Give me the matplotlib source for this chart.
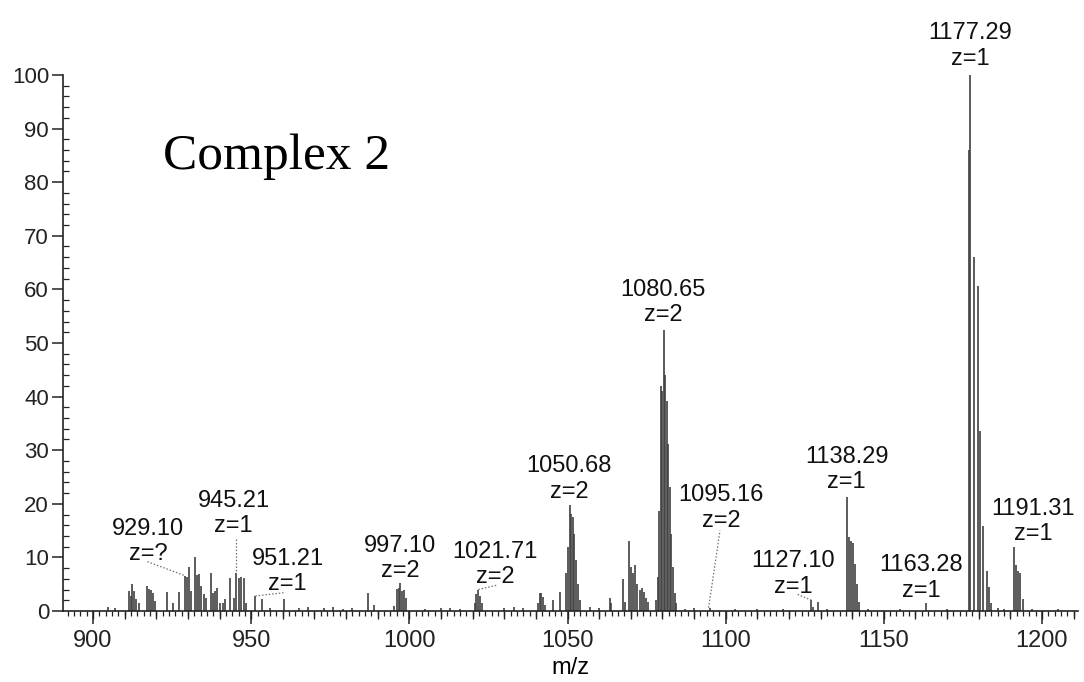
import numpy as np
import matplotlib
matplotlib.use("Agg")
import matplotlib.pyplot as plt
from matplotlib.ticker import MultipleLocator

# ---- data: stick spectrum (m/z, relative intensity %) ----
peak_mz = [
    904.8, 907.0,
    911.4, 911.9, 912.4, 912.9, 913.5, 914.5, 917.2, 917.7, 918.4, 919.1, 919.7,
    923.3, 925.3, 927.2, 929.0, 929.7, 930.3, 931.1, 932.2, 933.0, 933.5, 934.2,
    935.0, 935.6, 937.2, 937.9, 938.6, 939.3, 940.0, 941.1, 941.6, 943.4, 944.6,
    945.3, 946.0, 946.9, 947.6, 948.5, 951.3, 953.5, 956.0, 960.4, 965.0, 968.0,
    973.0, 976.0, 979.0, 982.0, 987.0, 988.8, 995.1, 996.0, 996.6, 997.1, 997.7,
    998.2, 998.8, 1005.0, 1010.0, 1013.0, 1016.0, 1020.7, 1021.2, 1021.7, 1022.2,
    1022.9, 1030.0, 1033.0, 1036.0, 1040.7, 1041.2, 1041.7, 1042.3, 1042.8,
    1045.4, 1047.5, 1049.6, 1050.2, 1050.7, 1051.2, 1051.7, 1052.2, 1052.8,
    1053.3, 1053.8, 1057.0, 1060.0, 1063.3, 1063.8, 1067.6, 1068.1, 1069.4,
    1070.2, 1070.7, 1071.4, 1072.1, 1072.8, 1073.6, 1074.2, 1074.9, 1075.5,
    1077.9, 1078.6, 1078.9, 1079.4, 1080.0, 1080.6, 1080.9, 1081.5, 1081.9,
    1082.4, 1082.8, 1083.4, 1083.9, 1084.4, 1087.0, 1090.0, 1095.1, 1103.0,
    1110.0, 1118.0, 1127.1, 1127.7, 1129.3, 1132.0, 1138.3, 1138.9, 1139.6,
    1140.2, 1140.8, 1141.5, 1142.1, 1145.0, 1155.0, 1163.3, 1170.0, 1176.9,
    1177.3, 1178.4, 1179.7, 1180.5, 1181.5, 1182.6, 1183.3, 1183.9, 1186.0,
    1188.0, 1191.3, 1191.9, 1192.5, 1193.2, 1194.1, 1197.0, 1205.0,
]
peak_int = [
    0.8, 0.5,
    3.7, 2.8, 5.1, 3.7, 2.3, 1.5, 4.6, 4.1, 3.9, 3.3, 1.9,
    3.5, 1.5, 3.5, 6.5, 6.4, 8.3, 3.7, 10.0, 6.8, 6.9, 4.6,
    3.1, 2.5, 7.1, 3.4, 3.7, 4.3, 1.5, 1.4, 2.2, 6.2, 2.5,
    7.0, 6.2, 6.3, 6.2, 1.5, 2.8, 2.2, 0.6, 2.2, 0.5, 0.7,
    0.6, 0.7, 0.4, 0.5, 3.3, 1.2, 0.9, 4.1, 4.3, 5.3, 3.7,
    3.9, 2.5, 0.4, 0.6, 0.5, 0.4, 1.5, 3.1, 3.9, 2.8,
    1.5, 0.5, 0.7, 0.5, 1.4, 3.3, 3.3, 2.7, 1.1,
    2.0, 3.6, 7.0, 11.9, 19.7, 18.1, 17.5, 14.4, 9.5,
    5.1, 2.0, 0.8, 0.5, 2.4, 1.4, 5.9, 1.7, 13.0,
    8.2, 7.0, 8.5, 5.1, 3.9, 4.2, 3.6, 2.4, 1.7,
    2.0, 6.4, 18.7, 41.9, 41.0, 52.4, 44.1, 39.1, 31.1,
    23.1, 14.4, 8.2, 3.3, 1.4, 0.4, 0.5, 0.6, 0.3,
    0.3, 0.4, 2.0, 0.8, 1.7, 0.3, 21.2, 13.8, 13.0,
    12.7, 8.8, 5.1, 1.7, 0.3, 0.3, 1.4, 0.4, 86.0,
    100.0, 66.0, 60.6, 33.5, 15.8, 7.5, 4.5, 1.5, 0.5,
    0.4, 12.0, 8.5, 7.5, 7.0, 2.3, 0.3, 0.3,
]

# ---- annotations ----
label_mass = ["929.10", "945.21", "951.21", "997.10", "1021.71", "1050.68",
              "1080.65", "1095.16", "1127.10", "1138.29", "1163.28",
              "1177.29", "1191.31"]
label_charge = ["z=?", "z=1", "z=1", "z=2", "z=2", "z=2", "z=2", "z=2",
                "z=1", "z=1", "z=1", "z=1", "z=1"]
label_x = [917.4, 944.4, 961.5, 997.0, 1027.2, 1050.6, 1080.3, 1098.5,
           1121.3, 1138.3, 1161.8, 1177.3, 1197.3]
label_y = [8.6, 13.8, 3.0, 5.4, 4.3, 20.2, 53.1, 14.8, 2.5, 22.0, 1.7,
           101.0, 12.3]

# dotted leader lines: (start m/z, start int) -> (end m/z, end int)
leader_x0 = [917.2, 945.3, 951.3, 1021.8, 1094.6, 1127.1]
leader_y0 = [9.2, 13.4, 2.8, 4.0, 0.6, 2.0]
leader_x1 = [929.0, 945.3, 960.2, 1027.6, 1098.2, 1122.4]
leader_y1 = [6.6, 7.0, 3.4, 4.8, 15.0, 3.2]

x_range = (890.5, 1211.4)
y_range = (0, 100)

# ---- figure ----
fig = plt.figure(figsize=(10.84, 6.82), dpi=100)
ax = fig.add_axes([0.0581, 0.1041, 0.9364, 0.786])
sans = ["Liberation Sans", "DejaVu Sans"]

ax.vlines(peak_mz, 0, peak_int, colors="#404040", linewidth=1.2)

for x0, y0, x1, y1 in zip(leader_x0, leader_y0, leader_x1, leader_y1):
    ax.plot([x0, x1], [y0, y1], linestyle=(0, (1.2, 1.5)), color="#707070",
            linewidth=0.9, clip_on=False)

for m, z, x, y in zip(label_mass, label_charge, label_x, label_y):
    ax.text(x, y, m + "\n" + z, ha="center", va="bottom", fontsize=17,
            family=sans, color="#111111", linespacing=1.2, clip_on=False)

ax.set_xlim(*x_range)
ax.set_ylim(*y_range)

for s in ("top", "right"):
    ax.spines[s].set_visible(False)
for s in ("left", "bottom"):
    ax.spines[s].set_linewidth(1.2)
    ax.spines[s].set_color("#222222")

ax.xaxis.set_major_locator(MultipleLocator(50))
ax.xaxis.set_minor_locator(MultipleLocator(2))
ax.yaxis.set_major_locator(MultipleLocator(10))
ax.yaxis.set_minor_locator(MultipleLocator(2))
ax.tick_params(axis="x", which="major", length=9, width=1.1, direction="out",
               labelsize=17, pad=5, colors="#222222")
ax.tick_params(axis="x", which="minor", length=3.5, width=0.9, direction="out",
               colors="#222222")
ax.tick_params(axis="y", which="major", length=8, width=1.1, direction="out",
               labelsize=16, pad=2, colors="#222222")
ax.tick_params(axis="y", which="minor", length=4, width=0.9, direction="in",
               colors="#222222")
for lab in ax.get_xticklabels() + ax.get_yticklabels():
    lab.set_family(sans)

sec = ax.secondary_xaxis("bottom")
sec.xaxis.set_major_locator(MultipleLocator(10))
sec.tick_params(axis="x", length=6, width=1.0, direction="out",
                labelbottom=False, colors="#222222")
sec.spines["bottom"].set_visible(False)

ax.set_xlabel("m/z", fontsize=17, family=sans, labelpad=3)

fig.text(0.2555, 0.770, "Complex 2", ha="center", va="center",
         fontsize=37, family=["Liberation Serif", "DejaVu Serif"])

fig.savefig("out.png", dpi=100)
